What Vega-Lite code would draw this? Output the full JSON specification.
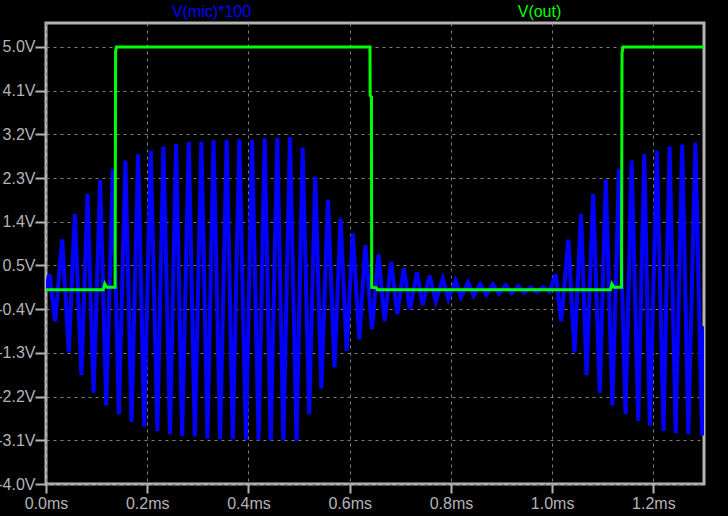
{
  "$schema": "https://vega.github.io/schema/vega-lite/v6.json",
  "width": 658,
  "height": 461,
  "autosize": "none",
  "padding": {"left": 46, "top": 23, "right": 24, "bottom": 32},
  "background": "#000000",
  "config": {
    "view": {"stroke": "#b4b4b4", "strokeWidth": 3},
    "axis": {
      "labelFont": "Liberation Sans",
      "labelFontSize": 16,
      "labelColor": "#b4b4b4",
      "tickColor": "#b4b4b4",
      "tickWidth": 2,
      "gridColor": "#808080",
      "gridDash": [3, 4],
      "gridWidth": 1,
      "domain": false,
      "labelFlush": false,
      "labelOverlap": false,
      "title": null
    }
  },
  "data": {
    "values": [
      {"t": 0.0, "v": 0.02, "s": "mic"},
      {"t": 0.007, "v": 0.32, "s": "mic"},
      {"t": 0.018, "v": -0.65, "s": "mic"},
      {"t": 0.032, "v": 1.04, "s": "mic"},
      {"t": 0.045, "v": -1.29, "s": "mic"},
      {"t": 0.057, "v": 1.56, "s": "mic"},
      {"t": 0.070, "v": -1.76, "s": "mic"},
      {"t": 0.082, "v": 1.97, "s": "mic"},
      {"t": 0.094, "v": -2.12, "s": "mic"},
      {"t": 0.107, "v": 2.26, "s": "mic"},
      {"t": 0.119, "v": -2.38, "s": "mic"},
      {"t": 0.132, "v": 2.49, "s": "mic"},
      {"t": 0.144, "v": -2.56, "s": "mic"},
      {"t": 0.157, "v": 2.66, "s": "mic"},
      {"t": 0.169, "v": -2.72, "s": "mic"},
      {"t": 0.182, "v": 2.79, "s": "mic"},
      {"t": 0.194, "v": -2.82, "s": "mic"},
      {"t": 0.207, "v": 2.86, "s": "mic"},
      {"t": 0.220, "v": -2.91, "s": "mic"},
      {"t": 0.232, "v": 2.95, "s": "mic"},
      {"t": 0.245, "v": -2.97, "s": "mic"},
      {"t": 0.257, "v": 3.0, "s": "mic"},
      {"t": 0.269, "v": -3.01, "s": "mic"},
      {"t": 0.282, "v": 3.04, "s": "mic"},
      {"t": 0.294, "v": -3.02, "s": "mic"},
      {"t": 0.307, "v": 3.05, "s": "mic"},
      {"t": 0.319, "v": -3.06, "s": "mic"},
      {"t": 0.331, "v": 3.08, "s": "mic"},
      {"t": 0.344, "v": -3.08, "s": "mic"},
      {"t": 0.357, "v": 3.09, "s": "mic"},
      {"t": 0.369, "v": -3.08, "s": "mic"},
      {"t": 0.382, "v": 3.1, "s": "mic"},
      {"t": 0.395, "v": -3.09, "s": "mic"},
      {"t": 0.407, "v": 3.09, "s": "mic"},
      {"t": 0.420, "v": -3.1, "s": "mic"},
      {"t": 0.432, "v": 3.12, "s": "mic"},
      {"t": 0.444, "v": -3.1, "s": "mic"},
      {"t": 0.457, "v": 3.13, "s": "mic"},
      {"t": 0.469, "v": -3.1, "s": "mic"},
      {"t": 0.482, "v": 3.14, "s": "mic"},
      {"t": 0.495, "v": -3.11, "s": "mic"},
      {"t": 0.507, "v": 2.93, "s": "mic"},
      {"t": 0.520, "v": -2.56, "s": "mic"},
      {"t": 0.532, "v": 2.33, "s": "mic"},
      {"t": 0.544, "v": -2.03, "s": "mic"},
      {"t": 0.557, "v": 1.85, "s": "mic"},
      {"t": 0.570, "v": -1.6, "s": "mic"},
      {"t": 0.582, "v": 1.47, "s": "mic"},
      {"t": 0.594, "v": -1.26, "s": "mic"},
      {"t": 0.606, "v": 1.16, "s": "mic"},
      {"t": 0.619, "v": -1.02, "s": "mic"},
      {"t": 0.631, "v": 0.92, "s": "mic"},
      {"t": 0.644, "v": -0.81, "s": "mic"},
      {"t": 0.657, "v": 0.73, "s": "mic"},
      {"t": 0.669, "v": -0.64, "s": "mic"},
      {"t": 0.682, "v": 0.57, "s": "mic"},
      {"t": 0.694, "v": -0.5, "s": "mic"},
      {"t": 0.707, "v": 0.45, "s": "mic"},
      {"t": 0.719, "v": -0.4, "s": "mic"},
      {"t": 0.733, "v": 0.36, "s": "mic"},
      {"t": 0.744, "v": -0.31, "s": "mic"},
      {"t": 0.758, "v": 0.29, "s": "mic"},
      {"t": 0.770, "v": -0.24, "s": "mic"},
      {"t": 0.784, "v": 0.23, "s": "mic"},
      {"t": 0.795, "v": -0.19, "s": "mic"},
      {"t": 0.809, "v": 0.19, "s": "mic"},
      {"t": 0.820, "v": -0.15, "s": "mic"},
      {"t": 0.834, "v": 0.15, "s": "mic"},
      {"t": 0.845, "v": -0.12, "s": "mic"},
      {"t": 0.858, "v": 0.12, "s": "mic"},
      {"t": 0.870, "v": -0.1, "s": "mic"},
      {"t": 0.883, "v": 0.11, "s": "mic"},
      {"t": 0.895, "v": -0.08, "s": "mic"},
      {"t": 0.908, "v": 0.09, "s": "mic"},
      {"t": 0.920, "v": -0.07, "s": "mic"},
      {"t": 0.933, "v": 0.07, "s": "mic"},
      {"t": 0.945, "v": -0.06, "s": "mic"},
      {"t": 0.958, "v": 0.05, "s": "mic"},
      {"t": 0.970, "v": -0.05, "s": "mic"},
      {"t": 0.982, "v": 0.05, "s": "mic"},
      {"t": 0.995, "v": -0.04, "s": "mic"},
      {"t": 1.007, "v": 0.32, "s": "mic"},
      {"t": 1.018, "v": -0.65, "s": "mic"},
      {"t": 1.032, "v": 1.03, "s": "mic"},
      {"t": 1.044, "v": -1.29, "s": "mic"},
      {"t": 1.057, "v": 1.56, "s": "mic"},
      {"t": 1.068, "v": -1.76, "s": "mic"},
      {"t": 1.081, "v": 1.97, "s": "mic"},
      {"t": 1.094, "v": -2.12, "s": "mic"},
      {"t": 1.106, "v": 2.27, "s": "mic"},
      {"t": 1.119, "v": -2.38, "s": "mic"},
      {"t": 1.132, "v": 2.49, "s": "mic"},
      {"t": 1.145, "v": -2.56, "s": "mic"},
      {"t": 1.157, "v": 2.66, "s": "mic"},
      {"t": 1.170, "v": -2.7, "s": "mic"},
      {"t": 1.182, "v": 2.79, "s": "mic"},
      {"t": 1.193, "v": -2.8, "s": "mic"},
      {"t": 1.207, "v": 2.86, "s": "mic"},
      {"t": 1.220, "v": -2.91, "s": "mic"},
      {"t": 1.232, "v": 2.95, "s": "mic"},
      {"t": 1.244, "v": -2.95, "s": "mic"},
      {"t": 1.257, "v": 2.99, "s": "mic"},
      {"t": 1.269, "v": -2.97, "s": "mic"},
      {"t": 1.283, "v": 3.02, "s": "mic"},
      {"t": 1.296, "v": -3.0, "s": "mic"},
      {"t": 1.3, "v": -0.75, "s": "mic"},
      {"t": 0.0, "v": 0.0, "s": "out"},
      {"t": 0.113, "v": 0.0, "s": "out"},
      {"t": 0.116, "v": 0.12, "s": "out"},
      {"t": 0.120, "v": 0.05, "s": "out"},
      {"t": 0.1365, "v": 0.05, "s": "out"},
      {"t": 0.1375, "v": 4.9, "s": "out"},
      {"t": 0.139, "v": 5.0, "s": "out"},
      {"t": 0.640, "v": 5.0, "s": "out"},
      {"t": 0.6405, "v": 4.0, "s": "out"},
      {"t": 0.643, "v": 3.97, "s": "out"},
      {"t": 0.6435, "v": 0.05, "s": "out"},
      {"t": 0.653, "v": 0.04, "s": "out"},
      {"t": 0.655, "v": 0.0, "s": "out"},
      {"t": 1.115, "v": 0.0, "s": "out"},
      {"t": 1.118, "v": 0.12, "s": "out"},
      {"t": 1.122, "v": 0.05, "s": "out"},
      {"t": 1.137, "v": 0.05, "s": "out"},
      {"t": 1.138, "v": 4.87, "s": "out"},
      {"t": 1.140, "v": 5.0, "s": "out"},
      {"t": 1.3, "v": 5.0, "s": "out"}
    ]
  },
  "layer": [
    {
      "transform": [{"filter": "datum.s === 'mic'"}],
      "mark": {"type": "line", "color": "#0000ff", "strokeWidth": 4, "clip": true},
      "encoding": {
        "x": {
          "field": "t", "type": "quantitative",
          "scale": {"domain": [0, 1.3], "nice": false, "zero": false},
          "axis": {
            "orient": "bottom",
            "values": [0, 0.2, 0.4, 0.6, 0.8, 1.0, 1.2],
            "labelExpr": "format(datum.value, '.1f') + 'ms'",
            "tickSize": 9,
            "labelPadding": 2
          }
        },
        "y": {
          "field": "v", "type": "quantitative",
          "scale": {"domain": [-4, 5.494], "nice": false, "zero": false},
          "axis": {
            "values": [-4, -3.1, -2.2, -1.3, -0.4, 0.5, 1.4, 2.3, 3.2, 4.1, 5.0],
            "labelExpr": "replace(format(datum.value, '.1f'), '\u2212', '-') + 'V'",
            "tickSize": 11,
            "labelPadding": 0
          }
        }
      }
    },
    {
      "transform": [{"filter": "datum.s === 'out'"}],
      "mark": {"type": "line", "color": "#00ff00", "strokeWidth": 3, "clip": true},
      "encoding": {
        "x": {
          "field": "t", "type": "quantitative",
          "scale": {"domain": [0, 1.3], "nice": false, "zero": false},
          "axis": {
            "orient": "top",
            "values": [0.326, 0.974],
            "labelExpr": "datum.value < 0.5 ? 'V(mic)*100' : 'V(out)'",
            "labelColor": {"condition": {"test": "datum.value < 0.5", "value": "#0000ff"}, "value": "#00ff00"},
            "ticks": false,
            "tickSize": 0,
            "grid": false,
            "labelPadding": 4
          }
        },
        "y": {
          "field": "v", "type": "quantitative",
          "scale": {"domain": [-4, 5.494], "nice": false, "zero": false},
          "axis": {
            "values": [-4, -3.1, -2.2, -1.3, -0.4, 0.5, 1.4, 2.3, 3.2, 4.1, 5.0],
            "labelExpr": "replace(format(datum.value, '.1f'), '\u2212', '-') + 'V'",
            "tickSize": 11,
            "labelPadding": 0
          }
        }
      }
    }
  ],
  "resolve": {"axis": {"x": "independent"}}
}
